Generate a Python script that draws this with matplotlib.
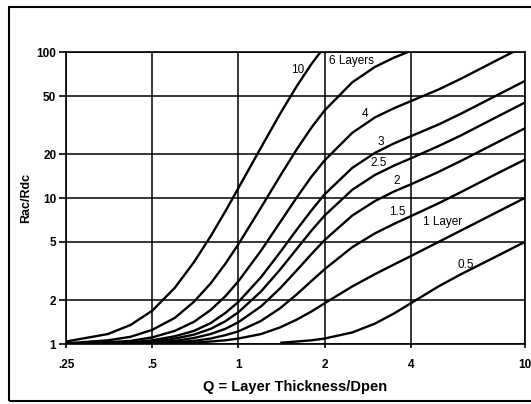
import numpy as np
import matplotlib.pyplot as plt
from matplotlib.patches import Rectangle

# Q = layer thickness / penetration depth (shared x values)
q = [0.25, 0.35, 0.42, 0.5, 0.6, 0.7, 0.8, 0.9, 1.0, 1.2, 1.4, 1.6, 1.8, 2.0,
     2.5, 3.0, 3.5, 4.0, 5.0, 6.0, 8.0, 10.0]

nan = np.nan

# Rac/Rdc, one list per number of layers
layers_10 = [1.04, 1.17, 1.35, 1.69, 2.43, 3.64, 5.47, 8.09, 11.7, 22.2, 37.9, 58.5, 82.9, 109]
layers_6 = [1.01, 1.06, 1.12, 1.25, 1.51, 1.95, 2.60, 3.54, 4.82, 8.61, 14.2, 21.6, 30.4, 39.8,
            62.1, 79.2, 91.7, 102]
layers_4 = [1.00, 1.03, 1.05, 1.11, 1.23, 1.42, 1.71, 2.12, 2.69, 4.36, 6.84, 10.1, 14.0, 18.1,
            28.0, 35.7, 41.3, 46.1, 55.4, 65.8, 88.0, 110]
layers_3 = [1.00, 1.01, 1.03, 1.06, 1.13, 1.23, 1.39, 1.63, 1.94, 2.87, 4.26, 6.08, 8.23, 10.6,
            16.1, 20.4, 23.7, 26.5, 31.9, 37.9, 50.6, 63.3]
layers_25 = [1.00, 1.01, 1.02, 1.04, 1.09, 1.16, 1.27, 1.43, 1.65, 2.29, 3.24, 4.49, 5.98, 7.58,
             11.4, 14.4, 16.7, 18.7, 22.7, 26.9, 36.0, 45.0]
layers_2 = [1.00, 1.00, 1.01, 1.03, 1.05, 1.10, 1.17, 1.27, 1.41, 1.81, 2.41, 3.20, 4.13, 5.15,
            7.59, 9.54, 11.1, 12.4, 15.1, 18.0, 24.0, 30.0]
layers_15 = [1.00, 1.00, 1.01, 1.01, 1.03, 1.05, 1.09, 1.15, 1.22, 1.44, 1.76, 2.19, 2.70, 3.25,
             4.61, 5.73, 6.66, 7.51, 9.20, 11.0, 14.7, 18.3]
layers_1 = [1.00, 1.00, 1.00, 1.01, 1.01, 1.02, 1.04, 1.06, 1.09, 1.17, 1.30, 1.47, 1.67, 1.90,
            2.48, 3.01, 3.51, 4.00, 5.00, 6.00, 8.00, 10.0]
layers_05 = [nan, nan, nan, nan, nan, nan, nan, nan, nan, nan, 1.02, 1.04, 1.06, 1.09,
             1.20, 1.38, 1.62, 1.90, 2.48, 3.01, 4.00, 5.00]

curves = [layers_10, layers_6, layers_4, layers_3, layers_25, layers_2, layers_15, layers_1, layers_05]

# curve labels and where they sit (data coords)
labels = ['10', '6 Layers', '4', '3', '2.5', '2', '1.5', '1 Layer', '0.5']
label_q = [1.61, 2.07, 2.76, 3.14, 3.10, 3.58, 3.58, 5.18, 6.24]
label_r = [75.4, 86.9, 37.7, 24.4, 17.4, 13.0, 8.0, 6.84, 3.5]

x_ticks = [0.25, 0.5, 1, 2, 4, 10]
x_tick_labels = ['.25', '.5', '1', '2', '4', '10']
y_ticks = [1, 2, 5, 10, 20, 50, 100]
y_tick_labels = ['1', '2', '5', '10', '20', '50', '100']

plt.rcParams['font.family'] = ['Liberation Sans', 'DejaVu Sans']

fig = plt.figure(figsize=(5.31, 4.04), dpi=100)
ax = fig.add_axes([0.1243, 0.1485, 0.8637, 0.7225])

for vals in curves:
    ax.plot(q[:len(vals)], vals, color='black', linewidth=1.7, solid_capstyle='butt')

ax.set_xscale('log')
ax.set_yscale('log')
ax.set_xlim(0.25, 10)
ax.set_ylim(1, 100)

ax.set_xticks(x_ticks)
ax.set_xticklabels(x_tick_labels)
ax.set_yticks(y_ticks)
ax.set_yticklabels(y_tick_labels)
ax.minorticks_off()
ax.tick_params(axis='y', length=5, width=1.2, color='black', labelsize=8.5, pad=2)
ax.tick_params(axis='x', length=3, width=1.2, color='black', labelsize=8.5, pad=8)
for t in ax.get_xticklabels() + ax.get_yticklabels():
    t.set_fontweight('bold')

ax.grid(True, color='black', linewidth=1.1)
for s in ax.spines.values():
    s.set_linewidth(1.2)

for txt, xq, yr in zip(labels, label_q, label_r):
    ax.text(xq, yr, txt, fontsize=8.5, ha='left' if 'Layers' in txt else 'center', va='center')

ax.set_ylabel('Rac/Rdc', fontsize=9, fontweight='bold', labelpad=3)
ax.set_xlabel('Q = Layer Thickness/Dpen', fontsize=10.5, fontweight='bold', labelpad=6)

# outer frame round the whole picture (right side runs off the canvas)
fig.patches.append(Rectangle((9 / 531, 3 / 404), 530 / 531, 394 / 404, transform=fig.transFigure,
                             fill=False, edgecolor='black', linewidth=1.5))

plt.savefig('out.png', dpi=100)
